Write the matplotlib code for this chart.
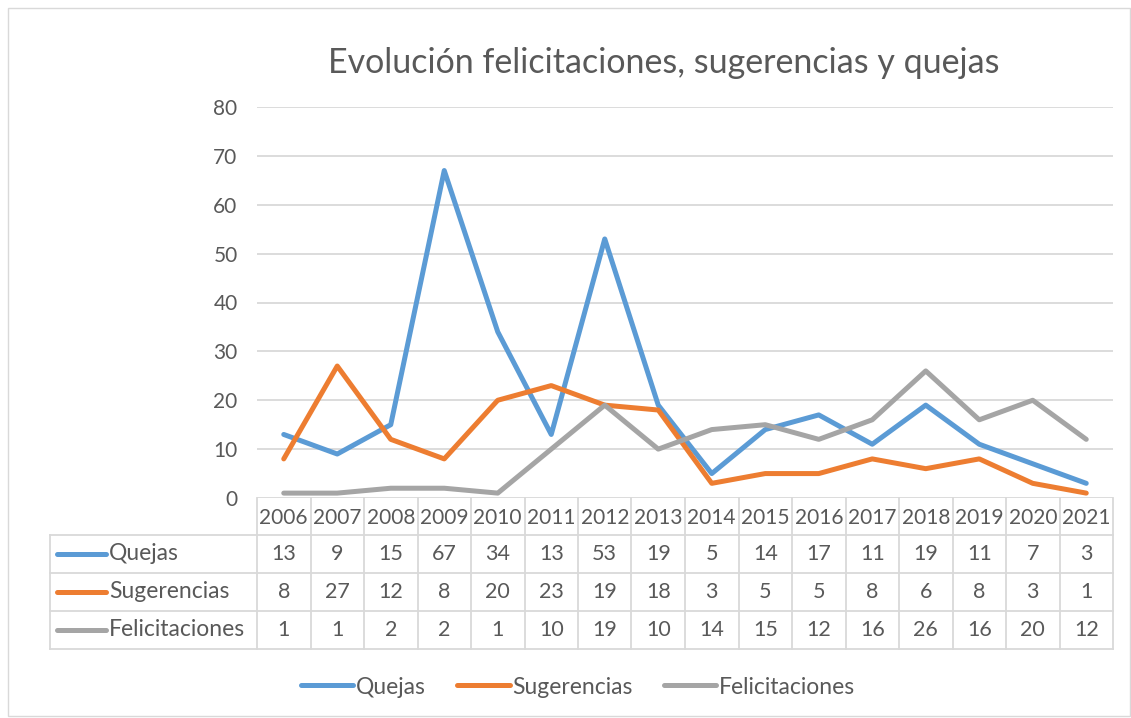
import numpy as np
import matplotlib.pyplot as plt
from matplotlib.lines import Line2D
from matplotlib.patches import Rectangle

plt.rcParams['font.family'] = ['Lato', 'DejaVu Sans']

# --------------------------
# Data
# --------------------------
years = ['2006', '2007', '2008', '2009', '2010', '2011', '2012', '2013',
         '2014', '2015', '2016', '2017', '2018', '2019', '2020', '2021']
quejas = [13, 9, 15, 67, 34, 13, 53, 19, 5, 14, 17, 11, 19, 11, 7, 3]
sugerencias = [8, 27, 12, 8, 20, 23, 19, 18, 3, 5, 5, 8, 6, 8, 3, 1]
felicitaciones = [1, 1, 2, 2, 1, 10, 19, 10, 14, 15, 12, 16, 26, 16, 20, 12]

series_names = ['Quejas', 'Sugerencias', 'Felicitaciones']
series_values = [quejas, sugerencias, felicitaciones]
colors = ['#5B9BD5', '#ED7D31', '#A5A5A5']

grid_col = '#D9D9D9'
text_col = '#595959'
fs = 15.5

W, H = 1131, 718
fig = plt.figure(figsize=(W / 100, H / 100), dpi=100)


def fx(x):
    return x / W


def fy(y):
    return 1 - y / H


# plot area in pixels
left, right, top, bottom = 257, 1113, 107, 498
ax = fig.add_axes([fx(left), fy(bottom), fx(right - left), (bottom - top) / H])

x = np.arange(len(years))
for name, vals, c in zip(series_names, series_values, colors):
    ax.plot(x, vals, color=c, lw=3.6, solid_capstyle='round',
            solid_joinstyle='round', label=name, zorder=3)

ax.set_xlim(-0.5, len(years) - 0.5)
ax.set_ylim(0, 80)
ax.set_yticks(range(0, 81, 10))
ax.set_xticks([])
ax.grid(axis='y', color=grid_col, lw=1.3)
ax.set_axisbelow(True)
for s in ax.spines.values():
    s.set_visible(False)
ax.tick_params(axis='y', length=0, pad=14, labelsize=15, labelcolor=text_col)

fig.text(fx(664), fy(63), 'Evolución felicitaciones, sugerencias y quejas',
         ha='center', va='center', fontsize=24.5, color=text_col)

# --------------------------
# Data table below the axis
# --------------------------
col_w = (right - left) / len(years)
row_edges = [bottom, 535, 573, 611, 649]
tab_left = 50


def hline(x0, x1, y):
    fig.add_artist(Line2D([fx(x0), fx(x1)], [fy(y), fy(y)], color=grid_col, lw=1.3))


def vline(xp, y0, y1):
    fig.add_artist(Line2D([fx(xp), fx(xp)], [fy(y0), fy(y1)], color=grid_col, lw=1.3))


for k in range(len(years) + 1):
    vline(left + k * col_w, bottom, row_edges[-1])
vline(tab_left, row_edges[1], row_edges[-1])
for y in row_edges[1:]:
    hline(tab_left, right, y)

for i, yr in enumerate(years):
    fig.text(fx(left + (i + 0.5) * col_w), fy((row_edges[0] + row_edges[1]) / 2 + 1), yr,
             ha='center', va='center', fontsize=15, color=text_col)

for r, (name, vals, c) in enumerate(zip(series_names, series_values, colors)):
    yc = (row_edges[r + 1] + row_edges[r + 2]) / 2
    fig.add_artist(Line2D([fx(57), fx(106)], [fy(yc), fy(yc)], color=c, lw=3.6,
                          solid_capstyle='round'))
    fig.text(fx(109), fy(yc), name, ha='left', va='center', fontsize=16.5, color=text_col)
    for i, v in enumerate(vals):
        fig.text(fx(left + (i + 0.5) * col_w), fy(yc), str(v),
                 ha='center', va='center', fontsize=fs, color=text_col)

# legend
leg = fig.legend(loc='center', bbox_to_anchor=(fx(578), fy(687)), ncol=3,
                 frameon=False, fontsize=16.5, handlelength=2.3, handletextpad=0.12,
                 columnspacing=1.35)
for t in leg.get_texts():
    t.set_color(text_col)

# chart border
fig.add_artist(Rectangle((fx(8), fy(716)), fx(1122), fy(8) - fy(716), fill=False,
                         edgecolor=grid_col, lw=1.0))

plt.savefig('out.png', dpi=100)
